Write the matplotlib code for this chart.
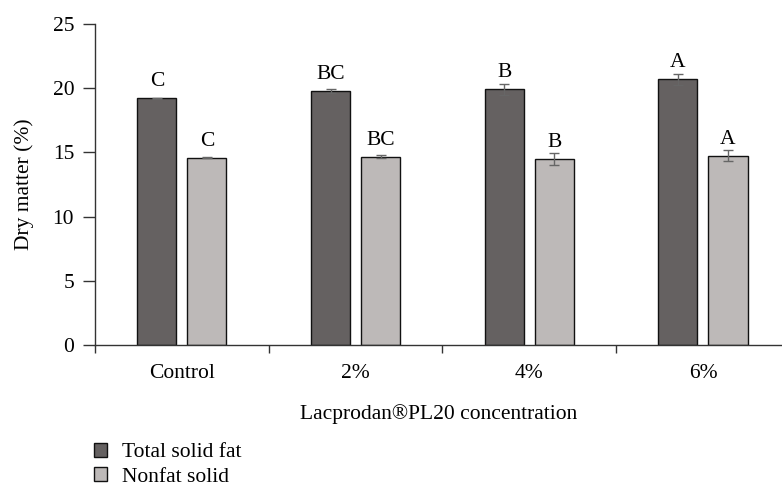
import matplotlib
matplotlib.use('Agg')
import matplotlib.pyplot as plt
from matplotlib.patches import Patch
import numpy as np

plt.rcParams['font.family'] = ['Liberation Serif', 'DejaVu Serif']

categories = ['Control', '2%', '4%', '6%']
total_fat = [19.2, 19.78, 19.9, 20.68]
total_fat_err = [0.04, 0.12, 0.42, 0.4]
total_fat_letters = ['C', 'BC', 'B', 'A']
nonfat = [14.58, 14.66, 14.47, 14.74]
nonfat_err = [0.04, 0.12, 0.45, 0.42]
nonfat_letters = ['C', 'BC', 'B', 'A']

dark = '#656161'
light = '#bdb9b8'
axis_col = '#333333'
fs = 15.5

fig = plt.figure(figsize=(7.82, 4.87), dpi=100)
W, H = 782, 487
ax = fig.add_axes([95 / W, (H - 345) / H, (W - 95) / W, (345 - 24) / H])

x = np.arange(len(categories))
bw = 0.225
off = 0.144
err_kw = dict(ecolor='#666666', elinewidth=1.0, capsize=3.5, capthick=1.0)
ax.bar(x - off, total_fat, bw, yerr=total_fat_err, color=dark,
       edgecolor='#111111', linewidth=1.0, error_kw=err_kw, zorder=2)
ax.bar(x + off, nonfat, bw, yerr=nonfat_err, color=light,
       edgecolor='#111111', linewidth=1.0, error_kw=err_kw, zorder=2)

for i in range(len(categories)):
    ax.text(x[i] - off, total_fat[i] + 0.95, total_fat_letters[i],
            ha='center', va='baseline', fontsize=fs)
    ax.text(x[i] + off, nonfat[i] + 0.95, nonfat_letters[i],
            ha='center', va='baseline', fontsize=fs)

ax.set_ylim(0, 25)
ax.set_yticks([0, 5, 10, 15, 20, 25])
ax.set_xlim(-0.5, -0.5 + (W - 95) / 173.7)
ax.set_xticks([-0.5, 0.5, 1.5, 2.5])
ax.set_xticklabels([])
ax.set_xticks(x, minor=True)
ax.set_xticklabels(categories, minor=True)
ax.tick_params(axis='x', which='major', direction='out', length=6,
               width=1.0, color=axis_col)
ax.tick_params(axis='x', which='minor', length=0, pad=14, labelsize=fs)
ax.tick_params(axis='y', direction='out', length=9, width=1.0,
               color=axis_col, labelsize=fs, pad=6)

for s in ['top', 'right']:
    ax.spines[s].set_visible(False)
for s in ['left', 'bottom']:
    ax.spines[s].set_color(axis_col)
    ax.spines[s].set_linewidth(1.0)

ax.set_ylabel('Dry matter (%)', fontsize=fs, labelpad=13)
ax.set_xlabel('Lacprodan\u00aePL20 concentration', fontsize=fs, labelpad=15)

handles = [Patch(facecolor=dark, edgecolor='#111111', linewidth=1.0, label='Total solid fat'),
           Patch(facecolor=light, edgecolor='#111111', linewidth=1.0, label='Nonfat solid')]
fig.legend(handles=handles, loc='upper left', bbox_to_anchor=(94 / W, 1 - 443 / H),
           frameon=False, fontsize=fs, handlelength=0.6, handleheight=0.6,
           handletextpad=0.7, labelspacing=0.22, borderaxespad=0, borderpad=0)

fig.savefig('out.png', dpi=100)
